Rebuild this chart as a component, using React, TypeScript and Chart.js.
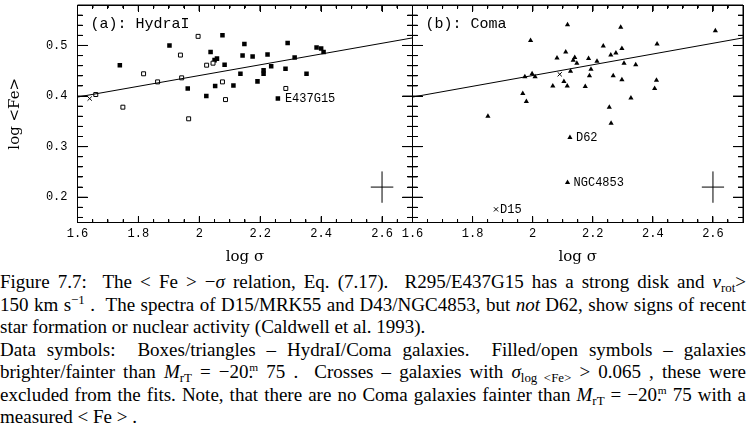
import React, { useEffect, useRef } from "react";
import { Chart, registerables } from "chart.js";

Chart.register(...registerables);

// ---------- axes ----------
const xRange = [1.6, 2.7];
const yRange = [0.15, 0.58];
const xTickLabels = [1.6, 1.8, 2.0, 2.2, 2.4, 2.6];
const xMinorTicks = [1.65, 1.7, 1.75, 1.85, 1.9, 1.95, 2.05, 2.1, 2.15, 2.25, 2.3, 2.35, 2.45, 2.5, 2.55, 2.65];
const yTickLabels = [0.2, 0.3, 0.4, 0.5];
const yMinorTicks = [0.16, 0.18, 0.22, 0.24, 0.26, 0.28, 0.32, 0.34, 0.36, 0.38, 0.42, 0.44, 0.46, 0.48, 0.52, 0.54, 0.56];

// ---------- panel (a): HydraI ----------
const hydraBrightX = [1.739, 1.902, 2.037, 1.962, 2.023, 2.050, 2.058, 2.076, 2.148, 2.142, 2.175, 2.083, 2.224, 2.290, 2.313, 2.236, 2.211, 2.211, 2.283, 2.135, 2.352, 2.191, 2.385, 2.400, 2.408, 2.052, 2.112, 2.258];
const hydraBrightY = [0.461, 0.500, 0.487, 0.415, 0.400, 0.471, 0.474, 0.520, 0.503, 0.480, 0.478, 0.462, 0.482, 0.505, 0.476, 0.459, 0.451, 0.444, 0.454, 0.444, 0.444, 0.429, 0.496, 0.494, 0.487, 0.420, 0.421, 0.395];
const hydraFaintX = [1.996, 1.938, 2.024, 1.817, 1.863, 1.942, 1.660, 1.749, 1.965, 2.045, 2.076, 2.086, 2.284];
const hydraFaintY = [0.518, 0.481, 0.461, 0.444, 0.428, 0.436, 0.403, 0.378, 0.355, 0.465, 0.428, 0.393, 0.415];
const hydraCrossX = [1.64];
const hydraCrossY = [0.395];

// ---------- panel (b): Coma ----------
const comaX = [2.116, 1.993, 2.235, 2.110, 2.081, 2.140, 2.135, 2.147, 2.186, 2.214, 2.194, 2.126, 2.189, 1.998, 1.974, 2.008, 2.104, 2.067, 2.115, 2.175, 1.967, 1.979, 1.851, 2.293, 2.608, 2.414, 2.297, 2.277, 2.260, 2.304, 2.343, 2.268, 2.297, 2.412, 2.406, 2.327, 2.255, 2.261, 2.124, 2.116];
const comaY = [0.541, 0.510, 0.499, 0.487, 0.475, 0.476, 0.471, 0.465, 0.474, 0.469, 0.453, 0.449, 0.440, 0.444, 0.438, 0.438, 0.429, 0.420, 0.420, 0.419, 0.405, 0.389, 0.360, 0.536, 0.529, 0.503, 0.494, 0.485, 0.481, 0.465, 0.462, 0.440, 0.432, 0.431, 0.415, 0.396, 0.378, 0.346, 0.318, 0.229];
const comaCrossX = [2.090, 1.878];
const comaCrossY = [0.443, 0.176];

// ---------- fit line and typical error ----------
const fitX = [1.6, 2.7];
const fitY = [0.398, 0.515];
const errCenter = [2.6, 0.22];
const errHalf = [0.037, 0.031];

// ---------- labelled galaxies ----------
const hydraLabels = [{ x: 2.258, y: 0.395, text: "E437G15", dx: 7 }];
const comaLabels = [
  { x: 2.124, y: 0.318, text: "D62", dx: 6 },
  { x: 2.116, y: 0.229, text: "NGC4853", dx: 6 },
  { x: 1.878, y: 0.176, text: "D15", dx: 4 },
];

// tick-mark lengths, in axis units (x ticks measured along y, y ticks along x)
const xTickLenMajor = 0.012;
const xTickLenMinor = 0.006;
const yTickLenMajor = 0.033;
const yTickLenMinor = 0.0165;

const pts = (xs: number[], ys: number[]) => xs.map((x, i) => ({ x, y: ys[i] }));

const TICK_FONT = { family: "Liberation Mono", size: 12 };
const AX_FONT = { family: "DejaVu Serif", size: 15 };

// frame + inward tick marks, as one broken polyline in data space (gaps via y = NaN)
function frameData() {
  const [x0, x1] = xRange;
  const [y0, y1] = yRange;
  const d: { x: number; y: number }[] = [
    { x: x0, y: y0 },
    { x: x1, y: y0 },
    { x: x1, y: y1 },
    { x: x0, y: y1 },
    { x: x0, y: y0 },
    { x: x0, y: NaN },
  ];
  const addX = (vals: number[], len: number) =>
    vals.forEach((v) => {
      d.push({ x: v, y: y0 }, { x: v, y: y0 + len }, { x: v, y: NaN });
      d.push({ x: v, y: y1 }, { x: v, y: y1 - len }, { x: v, y: NaN });
    });
  const addY = (vals: number[], len: number) =>
    vals.forEach((v) => {
      d.push({ x: x0, y: v }, { x: x0 + len, y: v }, { x: x0 + len, y: NaN });
      d.push({ x: x1, y: v }, { x: x1 - len, y: v }, { x: x1 - len, y: NaN });
    });
  addX(xTickLabels, xTickLenMajor);
  addX(xMinorTicks, xTickLenMinor);
  addY(yTickLabels, yTickLenMajor);
  addY(yMinorTicks, yTickLenMinor);
  return d;
}

// backup frame drawn directly from the scales
const framePlugin = {
  id: "panelframe",
  afterDatasetsDraw(chart: any) {
    const { ctx, chartArea, scales } = chart;
    const xs = scales.x;
    const ys = scales.y;
    const L = Math.floor(chartArea.left);
    const R = Math.floor(chartArea.right);
    const T = Math.floor(chartArea.top);
    const B = Math.floor(chartArea.bottom);
    ctx.save();
    ctx.fillStyle = "#000";
    ctx.fillRect(L, T, R - L + 1, 1);
    ctx.fillRect(L, B, R - L + 1, 1);
    ctx.fillRect(L, T, 1, B - T + 1);
    ctx.fillRect(R, T, 1, B - T + 1);
    const px = (v: number) => Math.floor(xs.getPixelForValue(v));
    const py = (v: number) => Math.floor(ys.getPixelForValue(v));
    xTickLabels.forEach((v) => {
      ctx.fillRect(px(v), B - 6, 1, 6);
      ctx.fillRect(px(v), T + 1, 1, 6);
    });
    xMinorTicks.forEach((v) => {
      ctx.fillRect(px(v), B - 3, 1, 3);
      ctx.fillRect(px(v), T + 1, 1, 3);
    });
    yTickLabels.forEach((v) => {
      ctx.fillRect(L + 1, py(v), 10, 1);
      ctx.fillRect(R - 10, py(v), 10, 1);
    });
    yMinorTicks.forEach((v) => {
      ctx.fillRect(L + 1, py(v), 5, 1);
      ctx.fillRect(R - 5, py(v), 5, 1);
    });
    ctx.restore();
  },
};

const textPlugin = {
  id: "paneltext",
  afterDraw(chart: any, _args: any, opts: any) {
    const { ctx, chartArea, scales } = chart;
    ctx.save();
    ctx.fillStyle = "#000";
    ctx.textBaseline = "middle";
    ctx.textAlign = "left";
    ctx.font = '15px "Liberation Mono"';
    ctx.fillText(opts.title, chartArea.left + 13, chartArea.top + 19);
    ctx.font = '12px "Liberation Mono"';
    (opts.labels || []).forEach((l: any) => {
      ctx.fillText(l.text, scales.x.getPixelForValue(l.x) + l.dx, scales.y.getPixelForValue(l.y));
    });
    ctx.restore();
  },
};

const lineDs = (data: any[], extra: any = {}) => ({
  data,
  showLine: true,
  borderColor: "#000",
  borderWidth: 1,
  pointRadius: 0,
  fill: false,
  spanGaps: false,
  ...extra,
});

function makeConfig(p: any) {
  return {
    type: "scatter",
    data: { datasets: p.datasets },
    options: {
      animation: false,
      responsive: false,
      maintainAspectRatio: false,
      events: [],
      layout: { padding: p.padding },
      plugins: {
        legend: { display: false },
        tooltip: { enabled: false },
        paneltext: { title: p.title, labels: p.labels },
      },
      scales: {
        x: {
          type: "linear",
          min: xRange[0],
          max: xRange[1],
          afterBuildTicks: (s: any) => {
            s.ticks = xTickLabels.map((v) => ({ value: v }));
          },
          ticks: {
            padding: 4,
            color: "#000",
            font: TICK_FONT,
            autoSkip: false,
            maxRotation: 0,
            callback: (v: number) => (Math.abs(v - 2) < 1e-9 ? "2" : v.toFixed(1)),
          },
          grid: { display: false, drawTicks: false },
          border: { display: false },
          title: { display: true, text: "log σ", color: "#000", font: AX_FONT, padding: { top: 0, bottom: 4 } },
          afterFit: (s: any) => {
            s.height = 47.5;
            s.paddingLeft = 0;
            s.paddingRight = 0;
          },
        },
        y: {
          type: "linear",
          min: yRange[0],
          max: yRange[1],
          afterBuildTicks: (s: any) => {
            s.ticks = yTickLabels.map((v) => ({ value: v }));
          },
          ticks: {
            display: p.showY,
            padding: 10,
            color: "#000",
            font: TICK_FONT,
            autoSkip: false,
            callback: (v: number) => v.toFixed(1),
          },
          grid: { display: false, drawTicks: false },
          border: { display: false },
          title: { display: p.showY, text: "log <Fe>", color: "#000", font: AX_FONT, padding: { top: 6, bottom: 0 } },
          afterFit: (s: any) => {
            s.width = p.yWidth;
            s.paddingTop = 0;
            s.paddingBottom = 0;
          },
        },
      },
    },
    plugins: [framePlugin, textPlugin],
  };
}

const errDatasets = () => [
  lineDs([
    { x: errCenter[0] - errHalf[0], y: errCenter[1] },
    { x: errCenter[0] + errHalf[0], y: errCenter[1] },
  ]),
  lineDs([
    { x: errCenter[0], y: errCenter[1] - errHalf[1] },
    { x: errCenter[0], y: errCenter[1] + errHalf[1] },
  ]),
];

function Panel({ which, left, width }: { which: "a" | "b"; left: number; width: number }) {
  const ref = useRef<HTMLCanvasElement>(null);
  useEffect(() => {
    const common = [lineDs(frameData(), { clip: false }), lineDs(pts(fitX, fitY)), ...errDatasets()];
    let cfg: any;
    if (which === "a") {
      cfg = makeConfig({
        title: "(a): HydraI",
        labels: hydraLabels,
        showY: true,
        yWidth: 77.5,
        padding: { top: 1.5, right: 7.5, left: 0, bottom: 0 },
        datasets: [
          ...common,
          {
            data: pts(hydraFaintX, hydraFaintY),
            pointStyle: "rect",
            pointRadius: 2.8,
            backgroundColor: "#fff",
            borderColor: "#000",
            borderWidth: 1,
          },
          {
            data: pts(hydraBrightX, hydraBrightY),
            pointStyle: "rect",
            pointRadius: 3.2,
            backgroundColor: "#000",
            borderColor: "#000",
            borderWidth: 0,
          },
          {
            data: pts(hydraCrossX, hydraCrossY),
            pointStyle: "crossRot",
            pointRadius: 3,
            borderColor: "#000",
            borderWidth: 1,
          },
        ],
      });
    } else {
      cfg = makeConfig({
        title: "(b): Coma",
        labels: comaLabels,
        showY: false,
        yWidth: 32.5,
        padding: { top: 1.5, right: 0.5, left: 0, bottom: 0 },
        datasets: [
          ...common,
          {
            data: pts(comaX, comaY),
            pointStyle: "triangle",
            pointRadius: 3,
            backgroundColor: "#000",
            borderColor: "#000",
            borderWidth: 0,
          },
          {
            data: pts(comaCrossX, comaCrossY),
            pointStyle: "crossRot",
            pointRadius: 3,
            borderColor: "#000",
            borderWidth: 1,
          },
        ],
      });
    }
    const chart = new Chart(ref.current as HTMLCanvasElement, cfg);
    return () => chart.destroy();
  }, [which]);
  return (
    <canvas
      ref={ref}
      width={width}
      height={270}
      style={{ position: "absolute", left, top: 0, width, height: 270 }}
    />
  );
}

const Sub = ({ children }: any) => (
  <span style={{ fontSize: "0.68em", verticalAlign: "-0.3em", lineHeight: 0 }}>{children}</span>
);
const Sup = ({ children }: any) => (
  <span style={{ fontSize: "0.68em", verticalAlign: "0.55em", lineHeight: 0 }}>{children}</span>
);
const Mag = () => (
  <>
    .
    <span style={{ fontSize: "0.6em", verticalAlign: "0.6em", lineHeight: 0, marginLeft: "-0.35em" }}>m</span>
  </>
);

const justify: React.CSSProperties = {
  textAlign: "justify",
  textAlignLast: "justify",
  whiteSpace: "nowrap",
};

const captionLines: { content: React.ReactNode; full: boolean }[] = [
  {
    full: true,
    content: (
      <>
        Figure 7.7:&nbsp; The &lt; Fe &gt; −<i>σ</i> relation, Eq. (7.17).&nbsp; R295/E437G15 has a strong disk and{" "}
        <i>v</i>
        <Sub>rot</Sub>&gt;
      </>
    ),
  },
  {
    full: true,
    content: (
      <>
        150 km s<Sup>−1</Sup> .&nbsp; The spectra of D15/MRK55 and D43/NGC4853, but <i>not</i> D62, show signs of recent
      </>
    ),
  },
  { full: false, content: <>star formation or nuclear activity (Caldwell et al. 1993).</> },
  {
    full: true,
    content: <>Data symbols:&nbsp; Boxes/triangles – HydraI/Coma galaxies.&nbsp; Filled/open symbols – galaxies</>,
  },
  {
    full: true,
    content: (
      <>
        brighter/fainter than <i>M</i>
        <Sub>rT</Sub> = −20<Mag /> 75 .&nbsp; Crosses – galaxies with <i>σ</i>
        <Sub>log &lt;Fe&gt;</Sub> &gt; 0.065 , these were
      </>
    ),
  },
  {
    full: true,
    content: (
      <>
        excluded from the fits. Note, that there are no Coma galaxies fainter than <i>M</i>
        <Sub>rT</Sub> = −20<Mag /> 75 with a
      </>
    ),
  },
  { full: false, content: <>measured &lt; Fe &gt; .</> },
];

export default function App() {
  return (
    <div
      style={{
        position: "fixed",
        left: 0,
        top: 0,
        width: 748,
        height: 427,
        background: "#fff",
        overflow: "hidden",
      }}
    >
      <Panel which="a" left={0} width={420} />
      <Panel which="b" left={380} width={368} />
      <div
        style={{
          position: "absolute",
          left: 0,
          top: 271,
          width: 746,
          fontFamily: '"Liberation Serif", serif',
          fontSize: 19,
          lineHeight: "22.5px",
          color: "#000",
        }}
      >
        {captionLines.map((l, i) => (
          <div key={i} style={l.full ? justify : { whiteSpace: "nowrap" }}>
            {l.content}
          </div>
        ))}
      </div>
    </div>
  );
}
